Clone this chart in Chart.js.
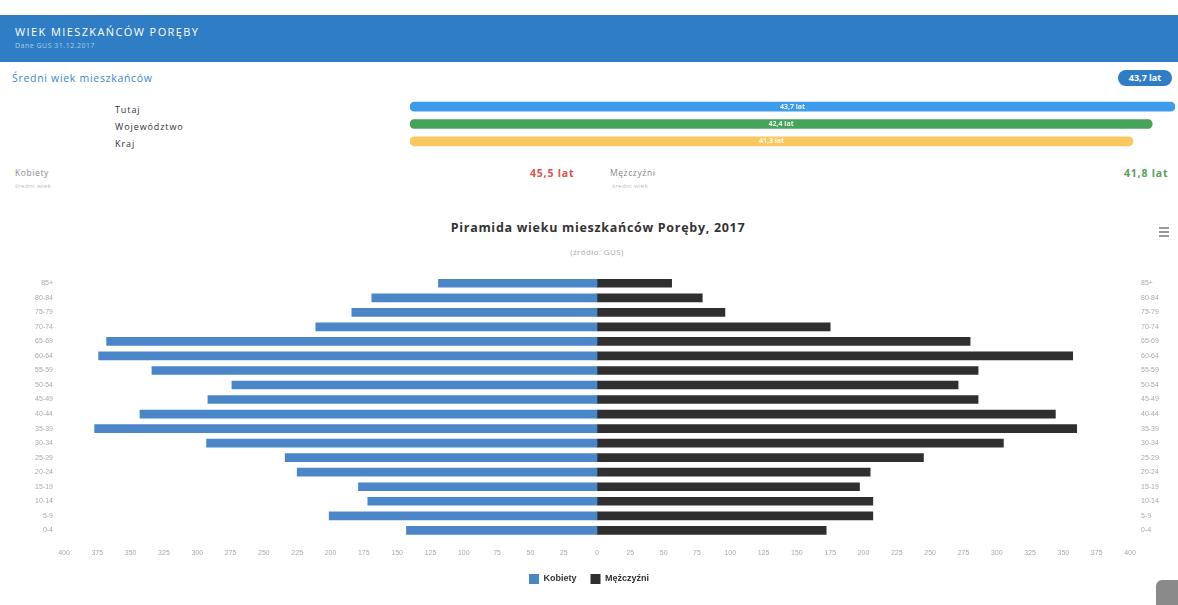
<!DOCTYPE html>
<html>
<head>
<meta charset="utf-8">
<script src="https://cdn.jsdelivr.net/npm/chart.js@4/dist/chart.umd.min.js"></script>
<style>
  html,body{margin:0;padding:0;background:#fff;width:1178px;height:605px;overflow:hidden;font-family:"Open Sans","Liberation Sans",Arial,sans-serif;}
  .abs{position:absolute;}
  #hdr{left:0;top:15px;width:1178px;height:47px;background:#2f7dc4;}
  #hdr .t{position:absolute;left:15px;top:9px;color:#fff;font-size:11px;letter-spacing:1.4px;}
  #hdr .s{position:absolute;left:15px;top:26px;color:#a9cdee;font-size:7px;letter-spacing:0.5px;}
  #avgline{left:12px;top:71px;color:#3a86cf;font-size:10.5px;letter-spacing:0.7px;}
  #badge{left:1118px;top:70px;width:54px;height:16px;border-radius:8px;background:#2f7dc4;color:#fff;font-size:9px;line-height:16px;text-align:center;font-weight:bold;}
  .lbl{left:115px;font-size:9px;color:#333;letter-spacing:0.9px;}
  .gl{font-size:8.5px;color:#888;letter-spacing:0.6px;}
  .gs{font-size:6px;color:#bbb;letter-spacing:0.4px;}
  .val{font-size:10.5px;font-weight:bold;letter-spacing:0.8px;}
  #ptitle{left:0;top:219px;width:1196px;text-align:center;font-size:12.5px;color:#333;font-weight:bold;letter-spacing:0.7px;}
  #psub{left:0;top:246px;width:1194px;text-align:center;font-size:8px;color:#aaa;letter-spacing:0.4px;}
  #menu{left:1159px;top:227px;width:10px;}
  #menu div{height:2px;background:#999;margin-bottom:2px;}
  #corner{left:1156px;top:580px;width:30px;height:30px;border-radius:6px;background:#8a8a8a;}
</style>
</head>
<body>
<div id="hdr" class="abs"><div class="t">WIEK MIESZKAŃCÓW PORĘBY</div><div class="s">Dane GUS 31.12.2017</div></div>
<div id="avgline" class="abs">Średni wiek mieszkańców</div>
<div id="badge" class="abs">43,7 lat</div>
<div class="abs lbl" style="top:103px">Tutaj</div>
<div class="abs lbl" style="top:120px">Województwo</div>
<div class="abs lbl" style="top:137px">Kraj</div>
<div class="abs" style="left:400px;top:98px;width:778px;height:52px"><canvas id="avg"></canvas></div>
<div class="abs gl" style="left:15px;top:167px">Kobiety</div>
<div class="abs gs" style="left:15px;top:182px">średni wiek</div>
<div class="abs val" style="left:530px;top:166px;color:#d9534f">45,5 lat</div>
<div class="abs gl" style="left:610px;top:167px">Mężczyźni</div>
<div class="abs gs" style="left:612px;top:182px">średni wiek</div>
<div class="abs val" style="left:1124px;top:166px;color:#5a9e5a">41,8 lat</div>
<div id="ptitle" class="abs">Piramida wieku mieszkańców Poręby, 2017</div>
<div id="psub" class="abs">(źródło: GUS)</div>
<div id="menu" class="abs"><div></div><div></div><div></div></div>
<div id="corner" class="abs"></div>
<div class="abs" style="left:0;top:268px;width:1178px;height:330px"><canvas id="pyr"></canvas></div>
<script>
// ---- data ----
const ageGroups = ["85+","80-84","75-79","70-74","65-69","60-64","55-59","50-54","45-49","40-44","35-39","30-34","25-29","20-24","15-19","10-14","5-9","0-4"];
const women = [119,169,184,211,368,374,334,274,292,343,377,293,234,225,179,172,201,143];
const men   = [56,79,96,175,280,357,286,271,286,344,360,305,245,205,197,207,207,172];
const seriesNames = ["Kobiety","Mężczyźni"];
const avgLabels = ["Tutaj","Województwo","Kraj"];
const avgValues = [43.7,42.4,41.3];
const xTicksMax = 400;

// ---- average bars ----
new Chart(document.getElementById('avg'), {
  type:'bar',
  data:{labels:avgLabels,datasets:[{data:avgValues,backgroundColor:['#3d9be9','#45a35a','#fbc860'],barThickness:9,borderRadius:5,borderSkipped:false}]},
  options:{indexAxis:'y',responsive:true,maintainAspectRatio:false,animation:false,
    layout:{padding:{left:10,right:3,top:0,bottom:0}},
    plugins:{legend:{display:false},tooltip:{enabled:false}},
    scales:{x:{display:false,min:0,max:43.7},y:{display:false}}},
  plugins:[{id:'vals',afterDatasetsDraw(c){const ctx=c.ctx;const m=c.getDatasetMeta(0);ctx.save();ctx.font='bold 7px "Open Sans", sans-serif';ctx.fillStyle='rgba(255,255,255,0.9)';ctx.textAlign='center';ctx.textBaseline='middle';
    m.data.forEach((b,i)=>{ctx.fillText(avgValues[i].toFixed(1).replace('.',',')+' lat',(b.base+b.x)/2,b.y);});ctx.restore();}}]
});

// ---- pyramid ----
new Chart(document.getElementById('pyr'), {
  type:'bar',
  data:{labels:ageGroups,datasets:[
    {label:seriesNames[0],data:women.map(v=>-v),backgroundColor:'#4a86c8',barThickness:8,yAxisID:'y'},
    {label:seriesNames[1],data:men,backgroundColor:'#2f2f2f',barThickness:8,yAxisID:'y'}
  ]},
  options:{indexAxis:'y',responsive:true,maintainAspectRatio:false,animation:false,
    layout:{padding:{top:8,bottom:4}},
    plugins:{legend:{position:'bottom',labels:{boxWidth:10,boxHeight:10,font:{size:9,weight:'bold'},color:'#333',padding:14}},tooltip:{enabled:false}},
    scales:{
      x:{min:-xTicksMax,max:xTicksMax,stacked:true,grid:{display:false},border:{display:false},
        ticks:{stepSize:25,autoSkip:false,maxRotation:0,color:'#aaa',font:{size:7},callback:v=>Math.abs(v)}},
      y:{stacked:true,position:'left',grid:{display:false},border:{display:false},
        ticks:{color:'#aaa',font:{size:7}},afterFit(s){s.width=64;}},
      y2:{position:'right',labels:ageGroups,type:'category',grid:{display:false},border:{display:false},
        ticks:{color:'#aaa',font:{size:7}},afterFit(s){s.width=48;}}
    }}
});
</script>
</body>
</html>
